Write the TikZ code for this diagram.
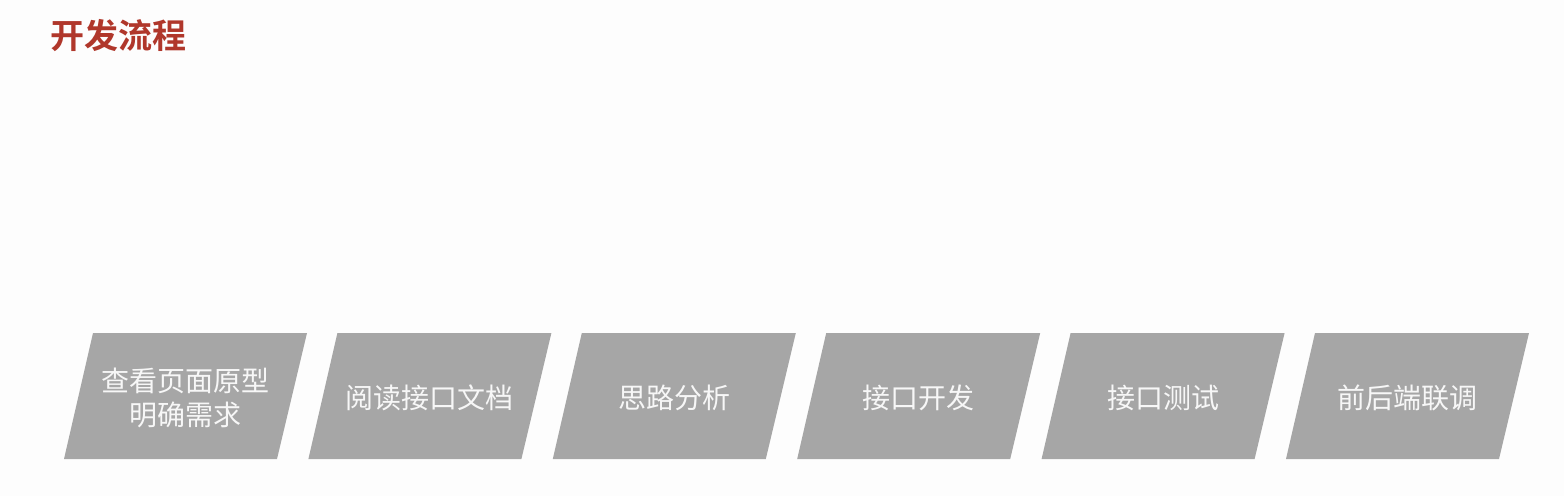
\documentclass[tikz,border=0pt]{standalone}
\usepackage{fontspec}
\newfontfamily\cjk{Noto Sans CJK SC}
\newfontfamily\cjkbold{Noto Sans CJK SC Bold}
\definecolor{titlered}{HTML}{B0372B}
\definecolor{boxgray}{HTML}{A6A6A6}
\definecolor{bg}{HTML}{FDFDFD}
\definecolor{boxtext}{HTML}{F7F7F7}
\tikzset{
  procshape/.style={fill=boxgray},
  proclabel/.style={text=boxtext, align=center, font=\cjk\fontsize{28}{34}\selectfont, inner sep=0pt},
  titlelabel/.style={text=titlered, anchor=west, font=\cjkbold\fontsize{34}{38}\selectfont, inner sep=0pt}
}
\begin{document}
\begin{tikzpicture}[x=1pt,y=-1pt]
\fill[bg] (0,0) rectangle (1564,496);
\useasboundingbox (0,0) rectangle (1564,496);
\node[titlelabel] (title) at (50,36) {开发流程};
\foreach \i/\txt in {0/{查看页面原型\\明确需求},1/{阅读接口文档},2/{思路分析},3/{接口开发},4/{接口测试},5/{前后端联调}}{
  \pgfmathsetmacro{\xo}{\i*244.4}
  \fill[procshape] (93+\xo,333) -- (307+\xo,333) -- (277+\xo,459) -- (64+\xo,459) -- cycle;
  \node[proclabel] (b\i) at (185.5+\xo,398) {\txt};
}
\end{tikzpicture}
\end{document}
